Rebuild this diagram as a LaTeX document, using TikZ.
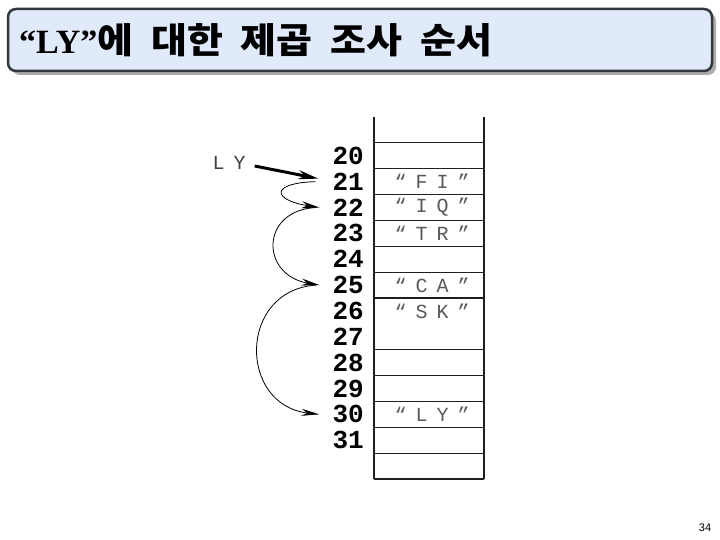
\documentclass[tikz,border=0pt]{standalone}
\usepackage{fontspec}
\setmainfont{Liberation Serif}
\newfontfamily\krfont{Noto Sans CJK KR}[WordSpace=2,FakeStretch=1.1]
\newfontfamily\rowfont{Liberation Mono}
\newfontfamily\cellfont{Liberation Mono}[LetterSpace=45]
\newfontfamily\pgfont{Liberation Sans}
\usetikzlibrary{arrows.meta}
\definecolor{boxfill}{RGB}{224,234,250}
\definecolor{boxborder}{RGB}{50,55,62}
\definecolor{boxshadow}{RGB}{172,172,172}
\begin{document}
\begin{tikzpicture}[x=1pt,y=-1pt,
  rowlab/.style={font=\rowfont\bfseries\fontsize{26}{26}\selectfont, anchor=east, inner sep=0pt},
  celltxt/.style={font=\cellfont\fontsize{20}{20}\selectfont, text=black!65, inner sep=0pt},
  gridline/.style={line width=1.1pt, draw=black!88},
  hop/.style={line width=0.8pt, -{Stealth[length=18pt,width=7pt]}},
  bigarrow/.style={line width=3pt, -{Stealth[length=20pt,width=9pt]}},
  ]
\useasboundingbox (0,0) rectangle (720,540);
% title box
\fill[boxshadow, rounded corners=8pt] (12,13) rectangle (716,75);
\draw[line width=2.5pt, draw=boxborder, fill=boxfill, rounded corners=8pt] (8,9) rectangle (712,71);
\node[anchor=base west, inner sep=0pt] (title) at (19,54)
  {{\bfseries\fontsize{34}{34}\selectfont “LY”}{\krfont\bfseries\fontsize{35.5}{35.5}\selectfont 에 대한 제곱 조사 순서}};
% table
\draw[line width=1.2pt, draw=black!88] (374,117) -- (374,479);
\draw[line width=2.2pt, draw=black!88] (484,117) -- (484,479);
\foreach \k in {1,...,7,9,10,...,14}
  \draw[gridline] (374,{117+25.857*\k}) -- (484,{117+25.857*\k});
% row labels
\foreach \r in {20,...,31}
  \node[rowlab] (l\r) at (364,{117+25.857*(\r-19)+12.93}) {\r};
% cell texts
\node[celltxt] (t21) at (432,{117+25.857*2+12.93}) {“FI”};
\node[celltxt] (t22) at (432,{117+25.857*3+12.93}) {“IQ”};
\node[celltxt] (t23) at (432,{117+25.857*4+12.93}) {“TR”};
\node[celltxt] (t25) at (432,{117+25.857*6+12.93}) {“CA”};
\node[celltxt] (t26) at (432,{117+25.857*7+12.93}) {“SK”};
\node[celltxt] (t30) at (432,{117+25.857*11+12.93}) {“LY”};
% LY pointer
\node[celltxt, text=black!75] (ly) at (229,163) {LY};
\draw[bigarrow] ([xshift=9pt,yshift=-3pt]ly.east) -- ([xshift=-14pt,yshift=3pt]l21.west);
% probe sequence
\draw[hop] ([xshift=-17pt]l21.west) .. controls (270,183) and (272,200) .. ([xshift=-13pt]l22.west);
\draw[hop] ([xshift=-16pt]l22.west) .. controls (260,210) and (260,275) .. ([xshift=-13pt]l25.west);
\draw[hop] ([xshift=-16pt]l25.west) .. controls (238,290) and (238,405) .. ([xshift=-13pt]l30.west);
% page number
\node[font=\pgfont\fontsize{11}{11}\selectfont, inner sep=0pt] (pg) at (705,528) {34};
\end{tikzpicture}
\end{document}
